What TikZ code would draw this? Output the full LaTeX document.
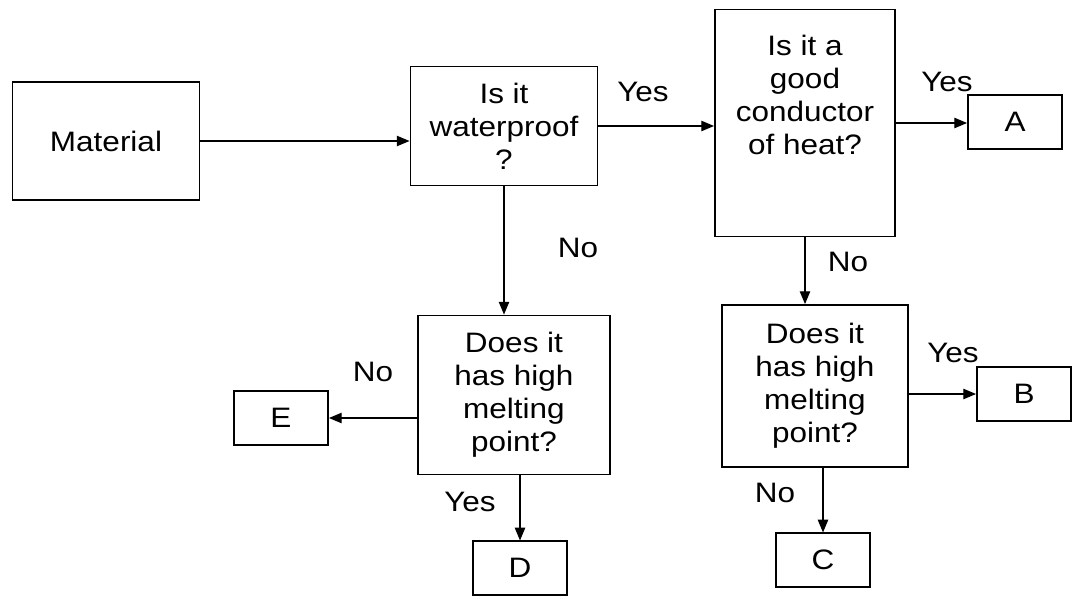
\documentclass[tikz,border=0pt]{standalone}
\usepackage{fontspec}
\setmainfont{Liberation Sans}[FakeStretch=1.12]
\usetikzlibrary{arrows.meta,calc}
\definecolor{LineClr}{RGB}{0,0,0}

\begin{document}
\begin{tikzpicture}[x=0.025cm,y=-0.025cm,
  qbox/.style={draw=LineClr,line width=1.3pt,align=center,inner sep=2pt,
    font=\fontsize{20}{23.5}\selectfont},
  leaf/.style={qbox,minimum width=2.35cm,minimum height=1.33cm},
  arr/.style={draw=LineClr,line width=0.9pt,-{Triangle[length=0.32cm,width=0.26cm]}},
  lbl/.style={font=\fontsize{20}{23.5}\selectfont,inner sep=0pt,align=center}]
\useasboundingbox (0,0) rectangle (1073,598);

\node[qbox,minimum width=4.675cm,minimum height=2.95cm] (mat) at (106,141) {Material};
\node[qbox,minimum width=4.675cm,minimum height=2.975cm] (wp) at (504,126) {Is it\\waterproof\\?};
\node[qbox,minimum width=4.5cm,minimum height=5.675cm] (cond) at (805,123) {};
\node[lbl] (condtxt) at (805,95) {Is it a\\good\\conductor\\of heat?};
\node[qbox,minimum width=4.8cm,minimum height=3.975cm] (ld) at (514,395) {Does it\\has high\\melting\\point?};
\node[qbox,minimum width=4.65cm,minimum height=4.05cm] (rd) at (815,386) {Does it\\has high\\melting\\point?};

\node[leaf] (A) at (1015,122) {A};
\node[leaf] (B) at (1024,394) {B};
\node[leaf] (C) at (823,560) {C};
\node[leaf] (D) at (520,568) {D};
\node[leaf] (E) at (281,418) {E};

\draw[arr] (mat.east) -- (mat.east -| wp.west);
\draw[arr] (wp.east) -- (wp.east -| cond.west);
\draw[arr] (cond.east) -- (cond.east -| A.west);
\draw[arr] (wp.south) -- (wp.south |- ld.north);
\draw[arr] (cond.south) -- (cond.south |- rd.north);
\draw[arr] (ld.west |- E.east) -- (E.east);
\draw[arr] (ld.south -| D.north) -- (D.north);
\draw[arr] (rd.east |- B.west) -- (B.west);
\draw[arr] (rd.south -| C.north) -- (C.north);

\node[lbl] (yes1) at (643,92) {Yes};
\node[lbl] (yes2) at (947,82) {Yes};
\node[lbl] (no1) at (578,248) {No};
\node[lbl] (no2) at (848,262) {No};
\node[lbl] (no3) at (373,372) {No};
\node[lbl] (yes3) at (470,502) {Yes};
\node[lbl] (yes4) at (953,353) {Yes};
\node[lbl] (no4) at (775,493) {No};

\end{tikzpicture}
\end{document}
